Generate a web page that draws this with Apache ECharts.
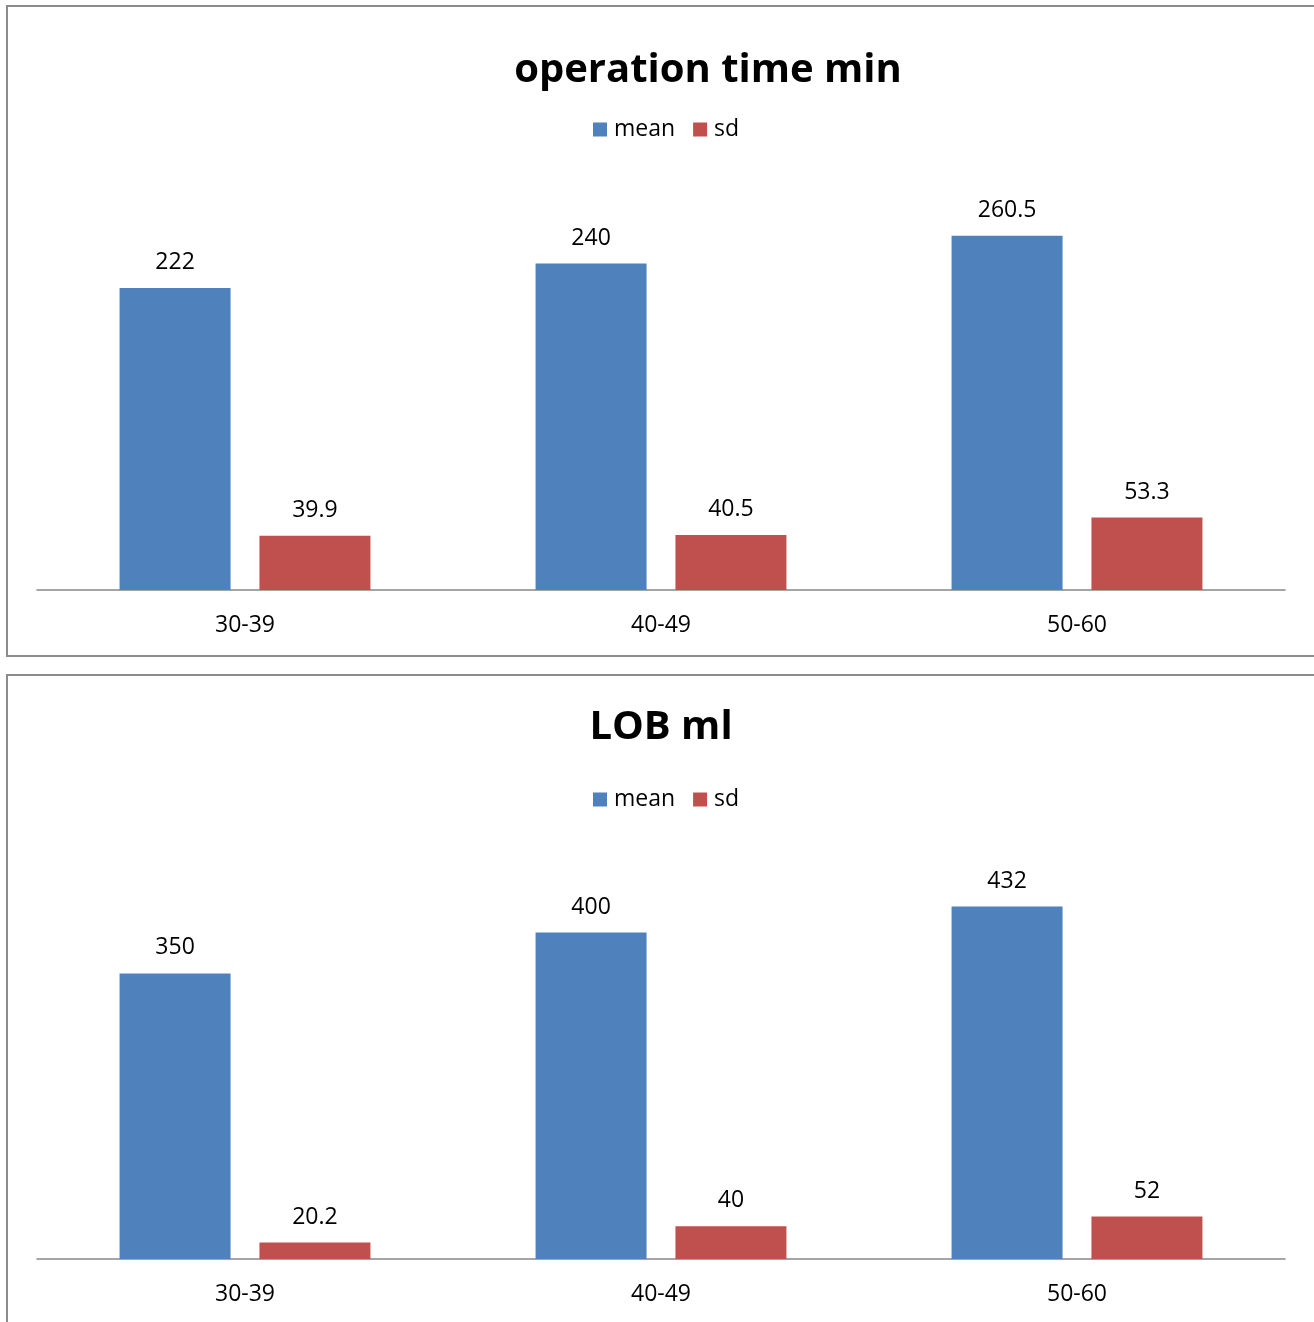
<!DOCTYPE html>
<html><head><meta charset="utf-8">
<script src="https://cdn.jsdelivr.net/npm/echarts@6/dist/echarts.min.js"></script>
<style>html,body{margin:0;padding:0;background:#fff}#c{width:1314px;height:1322px}</style>
</head><body><div id="c"></div>
<script>
const categories = ['30-39', '40-49', '50-60'];
const opMean = [222, 240, 260.5];
const opSd = [39.9, 40.5, 53.3];
const lobMean = [350, 400, 432];
const lobSd = [20.2, 40, 52];
const titles = ['operation time min', 'LOB ml'];
const seriesNames = ['mean', 'sd'];

const FONT = '"Open Sans", "Noto Sans", sans-serif';
const BLUE = '#4F81BD', RED = '#C0504D';
const chart = echarts.init(document.getElementById('c'), null, {renderer: 'canvas'});

function bar(name, data, idx, color) {
  return {
    type: 'bar', name: name, data: data, xAxisIndex: idx, yAxisIndex: idx,
    barWidth: 111, barGap: '26%', itemStyle: {color: color},
    label: {show: true, position: 'top', distance: 14, color: '#000', fontFamily: FONT, fontSize: 23},
    animation: false
  };
}
function xAx(idx) {
  return {
    type: 'category', data: categories, gridIndex: idx,
    axisLine: {lineStyle: {color: '#888', width: 1.5}}, axisTick: {show: false},
    axisLabel: {color: '#000', fontFamily: FONT, fontSize: 23, margin: 24}
  };
}
function yAx(idx, max) {
  return {type: 'value', gridIndex: idx, min: 0, max: max, show: false, splitLine: {show: false}};
}
const legendBase = {
  data: seriesNames, itemWidth: 14, itemHeight: 14, itemGap: 18, icon: 'rect', selectedMode: false,
  textStyle: {color: '#000', fontFamily: FONT, fontSize: 23, padding: [0, 0, 0, 2]}
};
chart.setOption({
  animation: false,
  backgroundColor: '#fff',
  title: [
    {text: titles[0], left: 703, top: 46, textAlign: 'center', textStyle: {fontFamily: FONT, fontWeight: 'bold', fontSize: 40, color: '#000'}},
    {text: titles[1], left: 656, top: 703, textAlign: 'center', textStyle: {fontFamily: FONT, fontWeight: 'bold', fontSize: 40, color: '#000'}}
  ],
  legend: [
    Object.assign({}, legendBase, {top: 113, left: 588}),
    Object.assign({}, legendBase, {top: 783, left: 588})
  ],
  grid: [
    {left: 37, right: 29, top: 182, height: 408},
    {left: 37, right: 29, top: 851, height: 408}
  ],
  xAxis: [xAx(0), xAx(1)],
  yAxis: [yAx(0, 300), yAx(1, 500)],
  series: [
    bar(seriesNames[0], opMean, 0, BLUE), bar(seriesNames[1], opSd, 0, RED),
    bar(seriesNames[0], lobMean, 1, BLUE), bar(seriesNames[1], lobSd, 1, RED)
  ],
  graphic: [
    {type: 'rect', shape: {x: 7, y: 6, width: 1320, height: 650}, style: {fill: null, stroke: '#8c8c8c', lineWidth: 2}},
    {type: 'rect', shape: {x: 7, y: 675, width: 1320, height: 700}, style: {fill: null, stroke: '#8c8c8c', lineWidth: 2}}
  ]
});
</script></body></html>
